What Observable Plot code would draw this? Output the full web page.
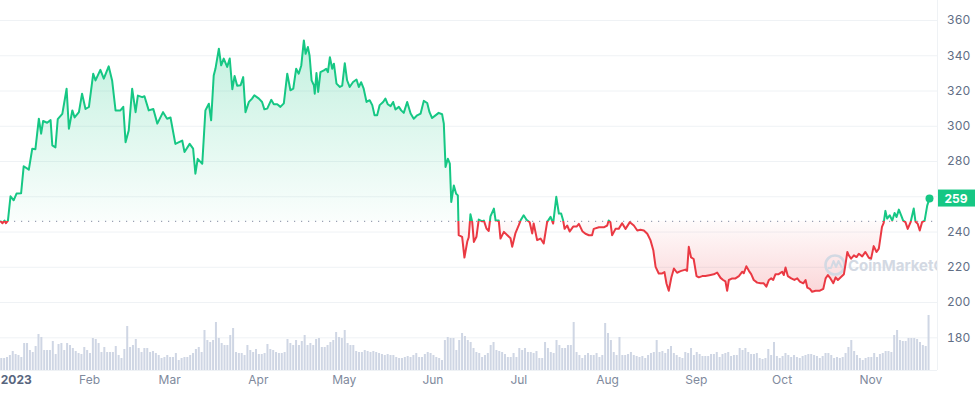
<!DOCTYPE html>
<html>
<head>
<meta charset="utf-8">
<script src="https://cdn.jsdelivr.net/npm/d3@7"></script>
<script src="https://cdn.jsdelivr.net/npm/@observablehq/plot@0.6"></script>
<style>
  html, body { margin: 0; padding: 0; background: #ffffff; }
  #chart { position: relative; width: 975px; height: 396px; overflow: hidden; font-family: Inter, sans-serif; }
  #chart svg { position: absolute; left: 0; top: 0; }
</style>
</head>
<body>
<div id="chart"></div>
<script>
// ---- data (day of year 2023 from Jan 1 = 0, price in USD) ----
const price = [[0,246],[0.6,245],[1.3,246.5],[1.8,245],[2.5,246.5],[3.4,260.3],[4.5,258],[5.5,261.8],[7.1,262],[8.0,277.3],[9.8,275.4],[11.0,287.3],[12.1,287],[13.3,304.3],[14.1,295.8],[14.8,303],[16.2,302],[17.4,303.5],[18.0,289.2],[19.1,288],[19.9,304],[21.5,307],[23.0,321.3],[23.8,298.6],[25.0,309],[25.8,305],[27.3,308],[28.4,318.5],[29.6,309.8],[30.8,311],[32.3,329.8],[33.1,326],[34.8,332],[36.0,327],[37.7,334],[38.9,326],[40.1,309],[41.8,309],[42.8,311],[43.6,291],[44.7,297.6],[45.9,321.3],[47.1,308],[47.9,317.4],[49.4,316.5],[50.2,317],[51.7,309],[53.3,309.8],[54.7,301.5],[56.7,308],[58.1,304.3],[59.3,305],[61.0,290],[63.4,291.9],[64.2,285.4],[66.0,290],[67.2,287.3],[68.0,273.1],[68.8,281.5],[70.4,278.7],[71.5,309],[72.7,312.8],[73.5,303.4],[74.4,328.8],[75.0,332.6],[76.2,344],[77.0,334.6],[77.9,338.4],[79.1,333.7],[80.0,338.4],[80.9,321],[81.7,328.5],[82.6,323],[83.8,323.3],[84.7,327.9],[85.5,308],[86.7,313.8],[87.8,315.7],[88.6,317.6],[90.2,315.7],[91.3,313.8],[92.1,309.6],[93.1,310],[94.5,315],[95.4,312.5],[96.6,312.5],[97.7,311],[98.9,313],[100.1,329.8],[101.2,320.4],[102.2,321.3],[103.2,332.6],[104.1,329.8],[105.0,334.5],[105.9,348.7],[106.5,341.1],[107.3,345],[107.9,340],[108.6,326],[109.4,323.3],[109.7,318.5],[110.3,330.2],[110.9,319.5],[111.7,330.7],[112.9,331.7],[113.7,332.6],[114.3,330.7],[115.0,339.2],[115.8,332.6],[116.4,335.5],[117.3,324.2],[118.5,322.3],[119.3,323],[120.2,335.8],[121.0,326.1],[121.9,322.3],[123.1,325.1],[124.3,326.5],[125.1,322.3],[125.9,325],[126.8,321.3],[127.8,313.8],[128.9,314.8],[129.8,312],[130.6,306.2],[131.5,306.2],[132.4,312],[133.6,313.8],[134.4,315.7],[135.2,312.5],[136.2,311.4],[137.1,313.8],[137.9,309.5],[139.1,311],[139.9,309],[140.8,307.6],[142.0,313.8],[143.2,307.2],[144.3,304.3],[145.5,306.2],[146.7,307.2],[147.8,314.4],[149.0,313.2],[149.8,308],[150.7,304.7],[151.9,306.2],[153.0,307.6],[154.2,306.8],[154.8,301.5],[155.4,276.9],[156.2,281.6],[156.9,278.8],[157.4,257],[158.3,266.4],[159.1,261.7],[159.7,260.8],[160.0,238.2],[161.2,237.3],[162.0,225.5],[163.0,234.6],[163.5,237],[164.1,250.1],[164.7,246],[165.3,234.4],[166.2,237.3],[167.0,247.1],[168.2,246],[168.8,246.5],[169.7,242],[170.5,240.6],[171.1,248.9],[172.3,253.3],[172.9,246.5],[174.0,246.5],[174.6,236.3],[175.8,240.1],[177.0,238.2],[178.1,236.5],[178.7,231.6],[179.8,239.2],[181.0,243.9],[181.6,246.5],[182.7,249.5],[183.7,247],[184.8,245.6],[185.7,239.2],[186.2,244.9],[187.4,235.4],[188.6,236.3],[189.7,233.5],[190.9,245.6],[192.1,248.6],[193.0,244.8],[194.1,260],[195.0,250.5],[195.8,250.5],[196.5,246.5],[197.0,241.8],[197.9,243.7],[198.8,240.3],[200.0,243.1],[201.2,243.1],[202.0,244.6],[203.2,240.5],[204.3,239],[205.5,238.2],[206.6,238.2],[207.2,241.8],[209.0,242.7],[210.7,242.7],[211.9,243.7],[212.4,246.5],[213.0,245.6],[213.6,238.2],[214.8,241.8],[215.9,241.8],[217.1,245],[218.3,241.8],[219.8,245.6],[221.2,243.7],[222.4,240.9],[223.5,241.3],[224.7,240.9],[225.9,239],[227.0,235.4],[228.0,229.7],[228.8,220.2],[229.9,216.5],[231.1,216.5],[231.9,217.3],[232.6,210.8],[233.4,206.7],[234.3,214.2],[235.2,219.3],[236.3,216.9],[237.5,217.8],[239.2,218.7],[239.8,218],[240.4,231.6],[241.2,225.6],[242.1,224.7],[243.1,215],[243.9,214.3],[245.1,215],[246.2,215],[248.0,215.6],[249.1,216],[250.3,217],[251.5,214],[252.4,212.8],[253.2,212],[253.8,206.7],[254.4,212.8],[255.6,213.7],[256.7,213.7],[257.9,215],[259.1,217.5],[259.6,216.6],[260.5,220.6],[261.4,218],[262.2,216.1],[263.1,212.8],[264.3,211.3],[265.5,210.9],[266.6,210.9],[267.5,209],[268.4,212.8],[269.2,213.7],[269.9,212.8],[270.7,216.1],[271.8,216.1],[273.0,217.5],[273.6,215.6],[274.2,219.9],[275.0,215],[276.2,213.7],[277.3,212.8],[278.3,213.7],[279.2,211.9],[280.4,210.9],[281.2,212.8],[281.8,208.5],[282.7,207.8],[283.5,206.1],[284.7,206.7],[286.2,206.7],[287.4,207.8],[288.2,213.7],[289.0,215.6],[289.9,213.7],[290.9,211],[291.7,214.3],[292.5,212.8],[293.4,214.2],[294.6,216.1],[295.2,222.2],[295.8,228.7],[296.3,226.8],[297.1,224.9],[298.1,226.8],[299.0,225.8],[299.8,227.7],[301.0,226.2],[302.1,228.7],[303.3,225.4],[304.1,224.9],[305.0,232],[306.0,228.7],[306.8,230.6],[307.9,242.9],[308.5,245.2],[309.1,252],[309.7,247.6],[310.6,249.5],[311.5,246.5],[312.3,250.8],[313.0,248.5],[313.8,252.7],[314.6,249.5],[315.3,246.5],[316.1,245.6],[316.9,241.8],[317.9,245.6],[319.0,253.3],[319.6,246],[320.4,244.6],[321.1,240.9],[321.9,245.6],[322.8,246.5],[323.7,255],[324.5,259]];

// daily volume (relative units), one value per day from Jan 1
const volume = [
  12,12,13,15,19,16,15,13,27,27,
  20,18,24,36,33,20,20,20,29,16,
  26,27,20,27,25,22,19,17,16,23,
  20,17,32,31,27,18,23,18,18,18,
  24,15,12,21,44,23,25,31,22,18,
  22,22,18,19,17,15,12,13,15,13,
  13,17,10,12,13,13,15,17,21,23,
  18,40,30,28,30,48,32,27,25,25,
  35,42,18,17,17,15,25,20,18,21,
  16,16,17,26,21,20,18,17,17,18,
  31,27,25,30,25,29,35,25,27,25,
  31,32,23,23,25,28,30,38,33,32,
  40,27,25,25,19,18,18,20,19,18,
  19,18,17,16,15,16,15,15,13,12,
  12,13,14,13,15,17,13,13,16,18,
  17,15,13,12,10,30,33,32,32,20,
  30,37,34,30,28,22,18,17,13,15,
  17,25,28,20,19,18,16,13,13,17,
  13,22,20,22,18,18,17,19,12,12,
  28,22,18,17,30,25,22,22,25,25,
  48,18,15,12,15,17,15,15,17,13,
  15,47,37,30,18,15,33,15,15,16,
  18,15,14,13,14,12,15,17,18,30,
  18,19,17,21,24,17,15,13,12,18,
  17,22,15,18,16,14,14,14,16,16,
  18,13,16,17,18,14,15,15,22,20,
  22,18,16,16,17,12,11,12,21,15,
  28,14,12,14,17,15,13,15,13,12,
  14,15,16,16,15,14,12,14,17,17,
  15,12,13,12,13,17,23,30,19,15,
  12,10,12,13,13,17,13,16,17,19,
  19,18,35,40,30,29,29,32,32,32,
  31,28,25,24,55
];

const monthDays = [0, 31, 59, 90, 120, 151, 181, 212, 243, 273, 304];
const monthLabels = ["2023", "Feb", "Mar", "Apr", "May", "Jun", "Jul", "Aug", "Sep", "Oct", "Nov"];
const yTicks = [180, 200, 220, 240, 260, 280, 300, 320, 340, 360];
const baseline = 246; // opening price, dotted reference line

// ---- styling ----
const GREEN = "#16c784", RED = "#ea3943";
const W = 975, H = 396, MR = 38, MB = 26;
const xDomain = [-0.1, 327.3];
const baseStyle = {fontFamily: "Inter, sans-serif", fontSize: "12px", background: "transparent", overflow: "visible"};
const lastPrice = price[price.length - 1][1];
// the last-price tag hides the axis label it would overlap
const yLabelTicks = yTicks.filter(t => Math.abs(t - lastPrice) > 8);

const pricePlot = Plot.plot({
  width: W, height: H,
  marginLeft: 0, marginRight: MR, marginTop: 0, marginBottom: MB,
  style: baseStyle,
  x: {domain: xDomain, axis: null},
  y: {domain: [180, 360], range: [337.3, 20]},
  marks: [
    Plot.gridY(yTicks, {stroke: "#eff2f5", strokeOpacity: 1}),
    Plot.axisY(yLabelTicks, {anchor: "right", tickSize: 0, tickPadding: 9.5, fill: "#616e85", fontSize: 12, label: null}),
    Plot.areaY(price, {x: d => d[0], y1: baseline, y2: d => d[1], fill: "url(#areaGrad)"}),
    Plot.ruleY([baseline], {stroke: "#9aa1b3", strokeWidth: 1.2, strokeDasharray: "1.2 5.8"}),
    Plot.line(price, {x: d => d[0], y: d => d[1], stroke: "url(#lineGrad)", strokeWidth: 2, strokeLinejoin: "round"}),
    Plot.dot([price[price.length - 1]], {x: d => d[0], y: d => d[1], r: 4, fill: GREEN})
  ]
});

// gradients split at the baseline
{
  const ys = pricePlot.scale("y");
  const yb = ys.apply(baseline);
  const yTop = ys.apply(d3.max(price, d => d[1]));
  const yBot = ys.apply(d3.min(price, d => d[1]));
  const svg = d3.select(pricePlot);
  const defs = svg.insert("defs", ":first-child");
  const lg = defs.append("linearGradient").attr("id", "lineGrad")
    .attr("gradientUnits", "userSpaceOnUse").attr("x1", 0).attr("x2", 0).attr("y1", 0).attr("y2", H);
  lg.append("stop").attr("offset", yb / H).attr("stop-color", GREEN);
  lg.append("stop").attr("offset", yb / H).attr("stop-color", RED);
  const ag = defs.append("linearGradient").attr("id", "areaGrad")
    .attr("gradientUnits", "userSpaceOnUse").attr("x1", 0).attr("x2", 0).attr("y1", yTop).attr("y2", yBot);
  const fb = (yb - yTop) / (yBot - yTop);
  ag.append("stop").attr("offset", 0).attr("stop-color", GREEN).attr("stop-opacity", 0.26);
  ag.append("stop").attr("offset", fb).attr("stop-color", GREEN).attr("stop-opacity", 0.02);
  ag.append("stop").attr("offset", fb).attr("stop-color", RED).attr("stop-opacity", 0.02);
  ag.append("stop").attr("offset", 1).attr("stop-color", RED).attr("stop-opacity", 0.2);

  // watermark, clipped to the frame, placed under the line
  const fr = W - MR;
  const clip = defs.append("clipPath").attr("id", "frameClip");
  clip.append("rect").attr("x", 0).attr("y", 0).attr("width", fr).attr("height", H);
  const lineNode = pricePlot.querySelector('[aria-label="line"]');
  const wm = d3.create("svg:g").attr("clip-path", "url(#frameClip)");
  const cy = 265, cx = fr - 102;
  wm.append("circle").attr("cx", cx).attr("cy", cy).attr("r", 9.5)
    .attr("fill", "none").attr("stroke", "#d3d9e3").attr("stroke-width", 2.6);
  wm.append("path").attr("d", `M${cx-7},${cy+3} L${cx-4},${cy+3} L${cx-1.5},${cy-4} L${cx+1},${cy+2} L${cx+3.5},${cy-4} L${cx+7},${cy+3}`)
    .attr("fill", "none").attr("stroke", "#d3d9e3").attr("stroke-width", 2).attr("stroke-linejoin", "round");
  wm.append("text").attr("x", fr - 89).attr("y", cy + 0.5).attr("dominant-baseline", "central")
    .attr("text-anchor", "start")
    .attr("font-family", "Inter, sans-serif").attr("font-size", 15).attr("font-weight", 700)
    .attr("fill", "#d3d9e3").text("CoinMarketCap");
  if (lineNode) lineNode.parentNode.insertBefore(wm.node(), lineNode);

  // last price tag on the axis
  const yl = ys.apply(lastPrice);
  svg.append("rect").attr("x", fr).attr("y", yl - 8.5).attr("width", MR).attr("height", 17).attr("fill", GREEN);
  svg.append("text").attr("x", fr + MR / 2).attr("y", yl).attr("text-anchor", "middle")
    .attr("dominant-baseline", "central").attr("fill", "#ffffff")
    .attr("font-family", "Inter, sans-serif").attr("font-size", 12).attr("font-weight", 700)
    .text(Math.round(lastPrice));
}

const volPlot = Plot.plot({
  width: W, height: H,
  marginLeft: 0, marginRight: MR, marginTop: 0, marginBottom: MB,
  style: baseStyle,
  x: {domain: xDomain, axis: null},
  y: {domain: [0, 55], range: [370, 315], axis: null},
  marks: [
    Plot.ruleY([0], {stroke: "#eff2f5"}),
    Plot.rectY(volume, {x1: (d, i) => i, x2: (d, i) => i + 0.7, y1: 0, y2: d => d, fill: "#cfd6e4"}),
    Plot.ruleX([xDomain[1]], {stroke: "#eff2f5"}),
    Plot.text([monthDays[0]], {x: d => d, text: [monthLabels[0]], frameAnchor: "bottom", dy: 13,
      textAnchor: "start", fontWeight: 700, fill: "#58667e", fontSize: 12}),
    Plot.text(monthDays.slice(1), {x: d => d, text: monthLabels.slice(1), frameAnchor: "bottom", dy: 13,
      fill: "#808a9d", fontSize: 12})
  ]
});

const chart = document.getElementById("chart");
chart.appendChild(pricePlot);
chart.appendChild(volPlot);
</script>
</body>
</html>
